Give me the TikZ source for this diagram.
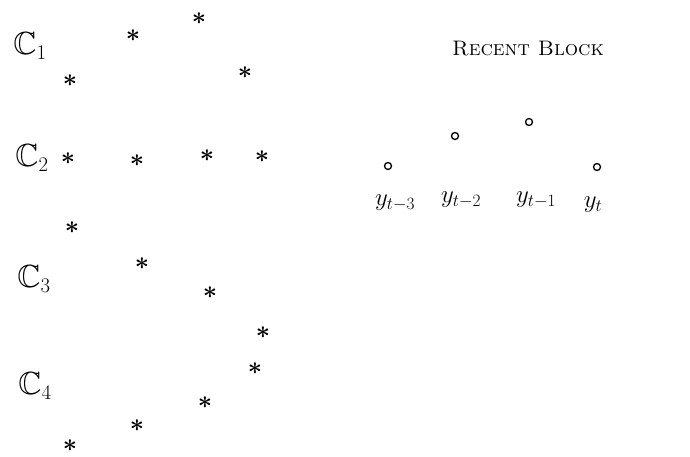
\documentclass[tikz,border=0pt]{standalone}
\usepackage{amsmath,amssymb}
\usepackage{tikz}
\usetikzlibrary{positioning}

\begin{document}
\begin{tikzpicture}[x=1pt, y=-1pt,
  lbl/.style={inner sep=0pt, font=\fontsize{32}{34}\selectfont},
  st/.style={inner sep=0pt, font=\fontsize{26}{26}\selectfont},
  obs/.style={circle, draw, line width=1.3pt, inner sep=0pt, minimum size=7pt},
  yl/.style={inner sep=0pt, font=\fontsize{24}{26}\selectfont}]
\useasboundingbox (0,0) rectangle (690,456);
\node[lbl] (c1) at (30,46) {$\mathbb{C}_1$};
\node[lbl] (c2) at (32,158) {$\mathbb{C}_2$};
\node[lbl] (c3) at (34,279) {$\mathbb{C}_3$};
\node[lbl] (c4) at (35,386) {$\mathbb{C}_4$};
\node[st] (s11) at (199,19) {$\boldsymbol{\ast}$};
\node[st] (s12) at (133,36) {$\boldsymbol{\ast}$};
\node[st] (s13) at (70,81) {$\boldsymbol{\ast}$};
\node[st] (s14) at (245,73) {$\boldsymbol{\ast}$};
\node[st] (s21) at (68,159) {$\boldsymbol{\ast}$};
\node[st] (s22) at (137,161) {$\boldsymbol{\ast}$};
\node[st] (s23) at (207,156) {$\boldsymbol{\ast}$};
\node[st] (s24) at (262,157) {$\boldsymbol{\ast}$};
\node[st] (s25) at (72,228) {$\boldsymbol{\ast}$};
\node[st] (s31) at (142,264) {$\boldsymbol{\ast}$};
\node[st] (s32) at (210,293) {$\boldsymbol{\ast}$};
\node[st] (s33) at (263,333) {$\boldsymbol{\ast}$};
\node[st] (s41) at (255,369) {$\boldsymbol{\ast}$};
\node[st] (s42) at (205,403) {$\boldsymbol{\ast}$};
\node[st] (s43) at (137,426) {$\boldsymbol{\ast}$};
\node[st] (s44) at (70,446) {$\boldsymbol{\ast}$};
\node[inner sep=0pt, font=\fontsize{21}{24}\selectfont] (blk) at (528,49) {\textsc{Recent Block}};
\node[obs] (o3) at (388,166) {};
\node[obs] (o2) at (455,136) {};
\node[obs] (o1) at (529,122) {};
\node[obs] (o0) at (597,167) {};
\node[yl] (y3) at (395,203) {$y_{t-3}$};
\node[yl] (y2) at (461,200) {$y_{t-2}$};
\node[yl] (y1) at (536,200) {$y_{t-1}$};
\node[yl] (y0) at (593,205) {$y_t$};
\end{tikzpicture}
\end{document}
